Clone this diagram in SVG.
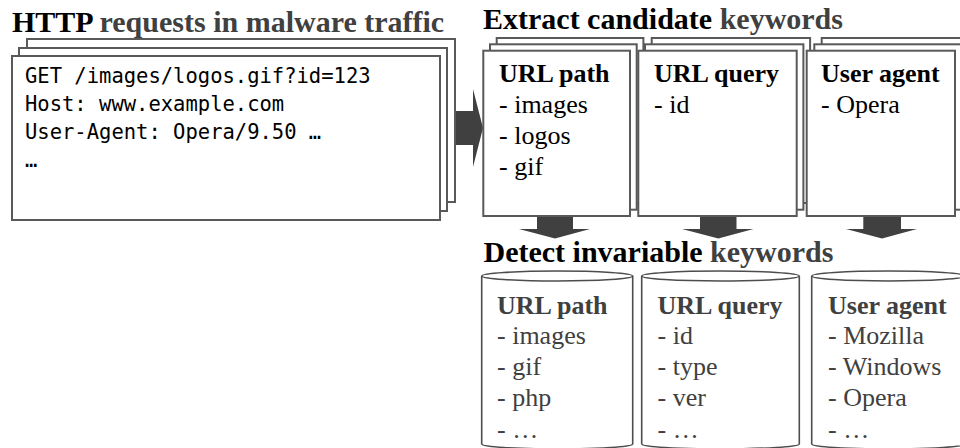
<svg xmlns="http://www.w3.org/2000/svg" width="960" height="448" viewBox="0 0 960 448">
  <style>
    .sheet { fill: #ffffff; stroke: #595959; stroke-width: 2; }
    .cyl { fill: #ffffff; stroke: #4d4d4d; stroke-width: 1.6; }
    .arrow { fill: #404040; }
    .serif { font-family: 'Liberation Serif', 'Times New Roman', serif; }
    .title { font-size: 30px; font-weight: bold; fill: #000000; }
    .dim { fill: #404040; }
    .head { font-size: 26px; font-weight: bold; fill: #000000; }
    .item { font-size: 26px; fill: #000000; }
    .cylhead { font-size: 26px; font-weight: bold; fill: #404040; }
    .cylitem { font-size: 26px; fill: #404040; }
    .mono { font-family: 'DejaVu Sans Mono', 'Liberation Mono', monospace; font-size: 20.5px; fill: #000000; }
  </style>

  <!-- Section titles -->
  <g class="serif">
    <text class="title" x="12" y="32">HTTP<tspan class="dim"> requests in malware traffic</tspan></text>
    <text class="title" x="483" y="29">Extract candidate<tspan class="dim"> keywords</tspan></text>
    <text class="title" x="483.5" y="262">Detect invariable<tspan class="dim"> keywords</tspan></text>
  </g>

  <!-- Connectors -->
  <g id="connectors">
    <polygon class="arrow" points="455,111 473,111 473,89 483,128 473,167 473,145 455,145"/>
    <polygon class="arrow" points="537,214 573,214 573,229 590,229 555,238.5 519,229 537,229"/>
    <polygon class="arrow" points="700,214 736.5,214 736.5,229 753.5,229 718.3,238.5 682,229 700,229"/>
    <polygon class="arrow" points="863.3,214 901,214 901,229 917,229 882,238.5 846,229 863.3,229"/>
  </g>

  <!-- Raw HTTP requests -->
  <g id="http-requests">
    <rect class="sheet" x="27" y="39" width="428" height="163"/>
    <rect class="sheet" x="19" y="48" width="428" height="163"/>
    <rect class="sheet" x="12" y="56" width="428" height="164"/>
    <text class="mono" x="25" y="83">GET /images/logos.gif?id=123</text>
    <text class="mono" x="25" y="111">Host: www.example.com</text>
    <text class="mono" x="25" y="139">User-Agent: Opera/9.50 …</text>
    <text class="mono" x="25" y="167">…</text>
  </g>

  <!-- Candidate keywords -->
  <g id="candidate-url-path" class="serif">
    <rect class="sheet" x="496.7" y="38" width="146.7" height="165"/>
    <rect class="sheet" x="490" y="44.3" width="146.7" height="165.4"/>
    <rect class="sheet" x="483.3" y="50.7" width="146.7" height="165.3"/>
    <text class="head" x="499" y="82">URL path</text>
    <text class="item" x="499" y="113">- images</text>
    <text class="item" x="499" y="144">- logos</text>
    <text class="item" x="499" y="175">- gif</text>
  </g>

  <g id="candidate-url-query" class="serif">
    <rect class="sheet" x="651.7" y="38" width="158.4" height="165"/>
    <rect class="sheet" x="645" y="44.3" width="158.4" height="165.4"/>
    <rect class="sheet" x="638.3" y="50.7" width="158.4" height="165.3"/>
    <text class="head" x="654" y="82">URL query</text>
    <text class="item" x="654" y="113">- id</text>
  </g>

  <g id="candidate-user-agent" class="serif">
    <rect class="sheet" x="821.7" y="38" width="148.3" height="165"/>
    <rect class="sheet" x="814.3" y="44.3" width="148.3" height="165.4"/>
    <rect class="sheet" x="806.7" y="50.7" width="148.3" height="165.3"/>
    <text class="head" x="821" y="82">User agent</text>
    <text class="item" x="821" y="113">- Opera</text>
  </g>

  <!-- Invariable keyword stores -->
  <g id="invariable-url-path" class="serif">
    <path class="cyl" d="M481.7,276 L481.7,444 A75.5,5 0 0 0 632.7,444 L632.7,276"/>
    <ellipse class="cyl" cx="557.2" cy="276" rx="75.5" ry="5"/>
    <text class="cylhead" x="497" y="314">URL path</text>
    <text class="cylitem" x="497" y="344">- images</text>
    <text class="cylitem" x="497" y="375">- gif</text>
    <text class="cylitem" x="497" y="406">- php</text>
    <text class="cylitem" x="497" y="438">- …</text>
  </g>

  <g id="invariable-url-query" class="serif">
    <path class="cyl" d="M641.7,276 L641.7,444 A78.8,5 0 0 0 799.3,444 L799.3,276"/>
    <ellipse class="cyl" cx="720.5" cy="276" rx="78.8" ry="5"/>
    <text class="cylhead" x="657.5" y="314">URL query</text>
    <text class="cylitem" x="657.5" y="344">- id</text>
    <text class="cylitem" x="657.5" y="375">- type</text>
    <text class="cylitem" x="657.5" y="406">- ver</text>
    <text class="cylitem" x="657.5" y="438">- …</text>
  </g>

  <g id="invariable-user-agent" class="serif">
    <path class="cyl" d="M811.7,276 L811.7,444 A77,5 0 0 0 965.7,444 L965.7,276"/>
    <ellipse class="cyl" cx="888.7" cy="276" rx="77" ry="5"/>
    <text class="cylhead" x="828" y="314">User agent</text>
    <text class="cylitem" x="828" y="344">- Mozilla</text>
    <text class="cylitem" x="828" y="375">- Windows</text>
    <text class="cylitem" x="828" y="406">- Opera</text>
    <text class="cylitem" x="828" y="438">- …</text>
  </g>
</svg>
